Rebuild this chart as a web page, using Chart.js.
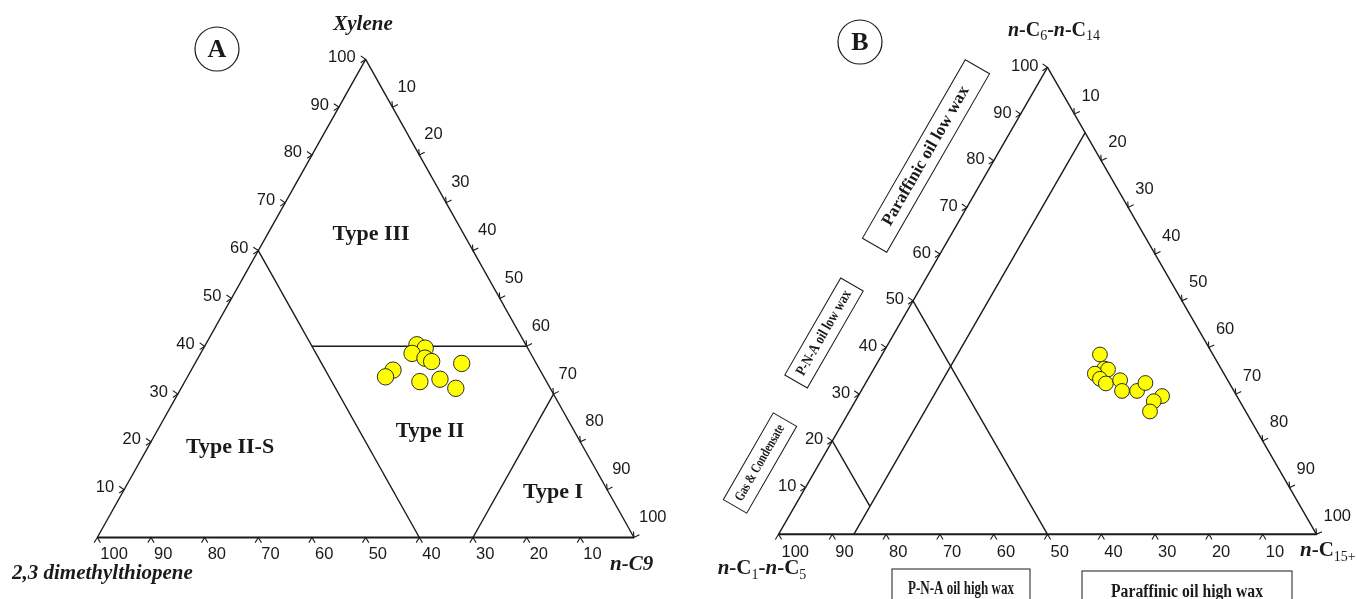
<!DOCTYPE html>
<html>
<head>
<meta charset="utf-8">
<script src="https://cdn.jsdelivr.net/npm/chart.js@4.4.1/dist/chart.umd.min.js"></script>
<style>
  html, body { margin: 0; padding: 0; background: #fff; }
  #wrap { position: relative; width: 1357px; height: 599px; overflow: hidden; background: #fff; }
  canvas { position: absolute; top: 0; }
  #cA { left: 0; width: 680px; height: 599px; }
  #cB { left: 680px; width: 677px; height: 599px; }
</style>
</head>
<body>
<div id="wrap">
  <canvas id="cA" width="680" height="599"></canvas>
  <canvas id="cB" width="677" height="599"></canvas>
</div>
<script>
// ---------- Panel A: Xylene / 2,3 dimethylthiopene / n-C9 (%) ----------
const xylene = [40.3, 39.6, 38.5, 37.5, 36.8, 36.4, 35.0, 33.6, 32.6, 33.1, 31.2];
const nC9    = [39.4, 41.3, 39.4, 42.3, 43.9, 49.7, 37.6, 36.9, 43.8, 47.3, 51.2];
const dmt    = [20.3, 19.1, 22.1, 20.2, 19.3, 13.9, 27.4, 29.5, 23.6, 19.6, 17.6];

// ---------- Panel B: n-C6–n-C14 / n-C1–n-C5 / n-C15+ (%) ----------
const c6c14   = [38.5, 35.5, 35.3, 34.4, 33.3, 32.3, 33.0, 30.7, 30.7, 32.4, 29.6, 28.5, 26.3];
const c15plus = [40.5, 42.8, 43.6, 41.6, 43.1, 44.7, 47.0, 48.5, 51.3, 52.0, 56.5, 55.5, 55.9];
const c1c5    = [21.0, 21.7, 21.1, 24.0, 23.6, 23.0, 20.0, 20.8, 18.0, 15.6, 13.9, 16.0, 17.8];

// Axis graduations (same on all three sides)
const tickSteps = [10, 20, 30, 40, 50, 60, 70, 80, 90, 100];

// Field boundaries, each as two compositions [top, right, left]
const fieldsA = [
  [[60, 0, 40], [0, 60, 40]],   // 2,3 dimethylthiopene = 40
  [[40, 20, 40], [40, 60, 0]],  // Xylene = 40
  [[0, 70, 30], [30, 70, 0]]    // n-C9 = 70
];
const fieldsB = [
  [[50, 0, 50], [0, 50, 50]],   // n-C1–n-C5 = 50
  [[0, 14, 86], [86, 14, 0]],   // n-C15+ = 14
  [[20, 0, 80], [6, 14, 80]]    // n-C1–n-C5 = 80 (gas & condensate)
];

const SERIF = '"Liberation Serif", "Times New Roman", serif';
const SANS  = '"Liberation Sans", Arial, sans-serif';
const INK = '#1a1a1a';

// ternary composition -> cartesian data space (0..100 wide, 0..100 tall)
function tern(top, right, left) {
  const s = top + right + left;
  const t = top / s * 100, r = right / s * 100;
  return { x: r + t / 2, y: t };
}

function lineSet(a, b, width) {
  return {
    type: 'scatter', data: [tern(...a), tern(...b)], showLine: true,
    borderColor: INK, borderWidth: width, pointRadius: 0, clip: false, order: 2
  };
}

function frameSets() {
  return [
    lineSet([100, 0, 0], [0, 0, 100], 1.4),
    lineSet([100, 0, 0], [0, 100, 0], 1.4),
    lineSet([0, 0, 100], [0, 100, 0], 2.0)
  ];
}

// draw a run of text pieces: [text, style] with style in b, bi, sub
function drawRich(ctx, parts, x, y, size, align) {
  const fontOf = st => {
    if (st === 'bi') return `italic bold ${size}px ${SERIF}`;
    if (st === 'sub') return `${Math.round(size * 0.68)}px ${SERIF}`;
    return `bold ${size}px ${SERIF}`;
  };
  let w = 0;
  parts.forEach(([t, st]) => { ctx.font = fontOf(st); w += ctx.measureText(t).width; });
  let cx = align === 'center' ? x - w / 2 : (align === 'right' ? x - w : x);
  ctx.textAlign = 'left';
  ctx.textBaseline = 'middle';
  parts.forEach(([t, st]) => {
    ctx.font = fontOf(st);
    ctx.fillText(t, cx, st === 'sub' ? y + size * 0.28 : y);
    cx += ctx.measureText(t).width;
  });
}

function chevron(ctx, x, y, ang, len, spread) {
  const back = ang + Math.PI;
  ctx.beginPath();
  ctx.moveTo(x + len * Math.cos(back - spread), y + len * Math.sin(back - spread));
  ctx.lineTo(x, y);
  ctx.lineTo(x + len * Math.cos(back + spread), y + len * Math.sin(back + spread));
  ctx.stroke();
}

// graduations, labels and annotations of a ternary panel
const ternaryDecor = {
  id: 'ternaryDecor',
  afterDatasetsDraw(chart, args, o) {
    const ctx = chart.ctx;
    const sx = chart.scales.x, sy = chart.scales.y;
    const P = (t, r, l) => { const d = tern(t, r, l); return { x: sx.getPixelForValue(d.x), y: sy.getPixelForValue(d.y) }; };
    const apex = P(100, 0, 0), bl = P(0, 0, 100);
    const rightDir = Math.atan2(bl.y - apex.y, bl.x - apex.x);
    ctx.save();
    ctx.strokeStyle = INK;
    ctx.fillStyle = INK;
    ctx.lineWidth = 1.1;
    ctx.font = `${o.tickSize}px ${SANS}`;
    tickSteps.forEach(v => {
      // left side: top component
      let p = P(v, 0, 100 - v);
      chevron(ctx, p.x, p.y, 0, 6, 0.6);
      ctx.textAlign = 'right'; ctx.textBaseline = 'middle';
      ctx.fillText(String(v), p.x + o.left[0], p.y + o.left[1]);
      // right side: right component
      p = P(100 - v, v, 0);
      chevron(ctx, p.x, p.y, rightDir, 6, 0.6);
      ctx.textAlign = 'left';
      ctx.fillText(String(v), p.x + o.right[0], p.y + o.right[1]);
      // bottom: left component
      p = P(0, 100 - v, v);
      chevron(ctx, p.x, p.y, -Math.PI / 2, 6, 0.55);
      ctx.fillText(String(v), p.x + o.bottom[0], p.y + o.bottom[1]);
    });

    // panel letter in a circle
    const c = o.badge;
    ctx.lineWidth = 1.2;
    ctx.beginPath(); ctx.arc(c.x, c.y, c.r, 0, Math.PI * 2); ctx.stroke();
    ctx.font = `bold ${c.size}px ${SERIF}`;
    ctx.textAlign = 'center'; ctx.textBaseline = 'middle';
    ctx.fillText(c.text, c.x, c.y + 1);

    // vertex titles and field names
    o.texts.forEach(t => drawRich(ctx, t.parts, t.x, t.y, t.size, t.align || 'center'));

    // boxed field names
    (o.boxes || []).forEach(b => {
      ctx.save();
      ctx.translate(b.x, b.y);
      ctx.rotate(b.angle || 0);
      ctx.lineWidth = 1;
      ctx.strokeRect(-b.w / 2, -b.h / 2, b.w, b.h);
      ctx.font = `bold ${b.size}px ${SERIF}`;
      ctx.textAlign = 'center';
      ctx.textBaseline = b.base || 'middle';
      const tw = ctx.measureText(b.text).width;
      const k = b.textW ? b.textW / tw : 1;
      ctx.translate(0, b.dy || 0);
      ctx.scale(k, 1);
      ctx.fillText(b.text, 0, 0);
      ctx.restore();
    });
    ctx.restore();
  }
};

function baseOptions(pad, decor) {
  return {
    responsive: false,
    animation: false,
    events: [],
    layout: { padding: pad },
    scales: {
      x: { type: 'linear', min: 0, max: 100, display: false },
      y: { type: 'linear', min: 0, max: 100, display: false }
    },
    plugins: { legend: { display: false }, tooltip: { enabled: false }, ternaryDecor: decor }
  };
}

function samples(tops, rights, lefts, radius) {
  return {
    type: 'scatter',
    data: tops.map((t, i) => tern(t, rights[i], lefts[i])),
    backgroundColor: '#ffff00', borderColor: '#2a2a2a', borderWidth: 1,
    pointRadius: radius, clip: false, order: 0
  };
}

// ---------- Panel A ----------
new Chart(document.getElementById('cA'), {
  type: 'scatter',
  data: {
    datasets: [
      samples(xylene, nC9, dmt, 8.2),
      ...frameSets(),
      ...fieldsA.map(f => lineSet(f[0], f[1], 1.4))
    ]
  },
  options: baseOptions({ left: 97.3, right: 46, top: 59.3, bottom: 61.5 }, {
    tickSize: 16.5,
    left: [-10, -2], right: [5, -20], bottom: [3, 17],
    badge: { x: 217, y: 49, r: 22, text: 'A', size: 26 },
    texts: [
      { parts: [['Xylene', 'bi']], x: 363, y: 25, size: 21 },
      { parts: [['2,3 dimethylthiopene', 'bi']], x: 12, y: 574, size: 21, align: 'left' },
      { parts: [['n-C9', 'bi']], x: 610, y: 565, size: 21, align: 'left' },
      { parts: [['Type III', 'b']], x: 371, y: 234, size: 22 },
      { parts: [['Type II', 'b']], x: 430, y: 431, size: 22 },
      { parts: [['Type II-S', 'b']], x: 230, y: 447, size: 22 },
      { parts: [['Type I', 'b']], x: 553, y: 492, size: 22 }
    ]
  }),
  plugins: [ternaryDecor]
});

// ---------- Panel B ----------
const tilt = -Math.atan2(467, 269);
new Chart(document.getElementById('cB'), {
  type: 'scatter',
  data: {
    datasets: [
      samples(c6c14, c15plus, c1c5, 7.4),
      ...frameSets(),
      ...fieldsB.map(f => lineSet(f[0], f[1], 1.4))
    ]
  },
  options: baseOptions({ left: 98.5, right: 40.5, top: 67.3, bottom: 64.7 }, {
    tickSize: 16.5,
    left: [-9, -1], right: [7, -18], bottom: [3, 18],
    badge: { x: 180, y: 42, r: 22, text: 'B', size: 26 },
    texts: [
      { parts: [['n', 'bi'], ['-C', 'b'], ['6', 'sub'], ['-', 'b'], ['n', 'bi'], ['-C', 'b'], ['14', 'sub']], x: 374, y: 31, size: 20 },
      { parts: [['n', 'bi'], ['-C', 'b'], ['1', 'sub'], ['-', 'b'], ['n', 'bi'], ['-C', 'b'], ['5', 'sub']], x: 82, y: 569, size: 21 },
      { parts: [['n', 'bi'], ['-C', 'b'], ['15+', 'sub']], x: 620, y: 551, size: 21, align: 'left' }
    ],
    boxes: [
      { text: 'Paraffinic oil low wax', x: 246, y: 156, w: 206, h: 28, angle: tilt, size: 17 },
      { text: 'P-N-A oil low wax', x: 144, y: 333, w: 112, h: 26, angle: tilt, size: 15, textW: 96 },
      { text: 'Gas & Condensate', x: 80, y: 463, w: 100, h: 27, angle: tilt, size: 14, textW: 86 },
      { text: 'P-N-A oil high wax', x: 281, y: 600, w: 138, h: 62, size: 18, textW: 106, base: 'alphabetic', dy: -6 },
      { text: 'Paraffinic oil high wax', x: 507, y: 601, w: 210, h: 60, size: 18, textW: 152, base: 'alphabetic', dy: -4 }
    ]
  }),
  plugins: [ternaryDecor]
});
</script>
</body>
</html>
